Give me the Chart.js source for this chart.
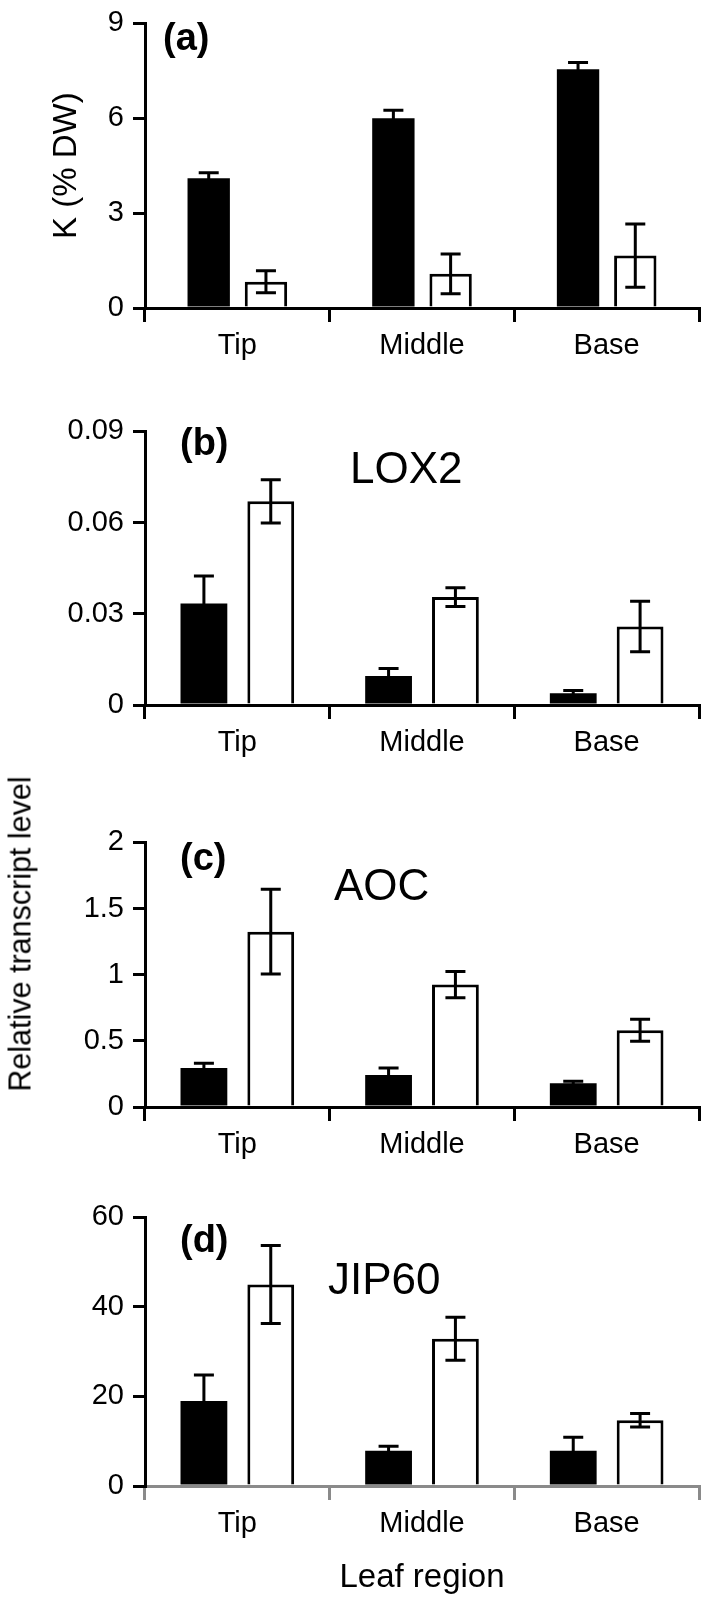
<!DOCTYPE html>
<html>
<head>
<meta charset="utf-8">
<script src="https://cdn.jsdelivr.net/npm/chart.js@4.4.1/dist/chart.umd.min.js"></script>
<style>
  body { margin: 0; background: #fff; }
  #fig { position: relative; width: 701px; height: 1600px; overflow: hidden; }
  #fig canvas { position: absolute; left: 0; }
  #ylab {
    position: absolute; left: 20px; top: 934px;
    transform: translate(-50%, -50%) rotate(-90deg);
    font: 30.5px 'Liberation Sans', Arial, Helvetica, sans-serif;
    white-space: nowrap; color: #000;
  }
</style>
</head>
<body>
<div id="fig">
  <canvas id="pa" width="701" height="371" style="top:-3px"></canvas>
  <canvas id="pb" width="701" height="360" style="top:405px"></canvas>
  <canvas id="pc" width="701" height="351" style="top:816px"></canvas>
  <canvas id="pd" width="701" height="409" style="top:1191px"></canvas>
  <div id="ylab">Relative transcript level</div>
</div>
<script>
const FONT = "'Liberation Sans', Arial, Helvetica, sans-serif";

const categories = ['Tip', 'Middle', 'Base'];

// (a) K content (% DW)
const kBlack = [4.1, 6.0, 7.55];
const kBlackErr = [0.18, 0.25, 0.21];
const kWhite = [0.83, 1.08, 1.66];
const kWhiteErr = [0.35, 0.63, 1.0];
const kTicks = [0, 3, 6, 9];

// (b) LOX2
const loxBlack = [0.0334, 0.0095, 0.0039];
const loxBlackErr = [0.009, 0.0025, 0.0009];
const loxWhite = [0.067, 0.0355, 0.0258];
const loxWhiteErr = [0.0071, 0.0031, 0.0083];
const loxTicks = [0, 0.03, 0.06, 0.09];

// (c) AOC
const aocBlack = [0.295, 0.242, 0.18];
const aocBlackErr = [0.035, 0.053, 0.015];
const aocWhite = [1.325, 0.925, 0.58];
const aocWhiteErr = [0.32, 0.1, 0.083];
const aocTicks = [0, 0.5, 1, 1.5, 2];

// (d) JIP60
const jipBlack = [19, 7.9, 7.9];
const jipBlackErr = [5.8, 1.0, 3.0];
const jipWhite = [45, 32.9, 14.7];
const jipWhiteErr = [8.7, 4.8, 1.5];
const jipTicks = [0, 20, 40, 60];

// error bars drawn from the dataset values through the y scale
const errorBars = {
  id: 'errorBars',
  afterDatasetsDraw(chart) {
    const ctx = chart.ctx, y = chart.scales.y;
    chart.data.datasets.forEach((ds, i) => {
      chart.getDatasetMeta(i).data.forEach((bar, j) => {
        const v = ds.data[j], e = ds.errors[j];
        const top = y.getPixelForValue(v + e), bot = y.getPixelForValue(v - e);
        ctx.save();
        ctx.strokeStyle = '#000';
        ctx.lineWidth = 3;
        ctx.beginPath();
        ctx.moveTo(bar.x, top); ctx.lineTo(bar.x, bot);
        ctx.moveTo(bar.x - 10, top); ctx.lineTo(bar.x + 10, top);
        ctx.moveTo(bar.x - 10, bot); ctx.lineTo(bar.x + 10, bot);
        ctx.stroke();
        ctx.restore();
      });
    });
  }
};

const panelText = {
  id: 'panelText',
  afterDraw(chart, args, o) {
    const ctx = chart.ctx;
    ctx.save();
    ctx.fillStyle = '#000';
    ctx.textBaseline = 'alphabetic';
    ctx.textAlign = 'left';
    ctx.font = 'bold 38px ' + FONT;
    ctx.fillText(o.tag, o.tagX, o.tagY);
    if (o.gene) {
      ctx.font = '44px ' + FONT;
      ctx.fillText(o.gene, o.geneX, o.geneY);
    }
    ctx.restore();
  }
};

function makePanel(id, black, blackErr, white, whiteErr, ticks, p) {
  const axisColor = p.axisColor || '#000';
  new Chart(document.getElementById(id), {
    type: 'bar',
    data: {
      labels: categories,
      datasets: [
        { label: 'black', data: black, errors: blackErr, backgroundColor: '#000',
          borderWidth: 0, categoryPercentage: p.cat, barPercentage: p.bar },
        { label: 'white', data: white, errors: whiteErr, backgroundColor: '#fff',
          borderColor: '#000', borderWidth: 3, categoryPercentage: p.cat, barPercentage: p.bar }
      ]
    },
    options: {
      responsive: false,
      animation: false,
      devicePixelRatio: 1,
      layout: { padding: { top: 18, right: 2, left: 0, bottom: 0 } },
      plugins: {
        legend: { display: false },
        tooltip: { enabled: false },
        panelText: p.text
      },
      scales: {
        x: {
          offset: true,
          grid: { offset: true, drawOnChartArea: false, drawTicks: true, tickLength: 14,
                  lineWidth: 3, color: axisColor },
          border: { display: true, width: 3, color: axisColor },
          ticks: { color: '#000', font: { family: FONT, size: 29 }, padding: 7, maxRotation: 0 },
          title: p.xTitle ? { display: true, text: p.xTitle, color: '#000',
                  font: { family: FONT, size: 33 }, padding: { top: 0, bottom: 2 } } : { display: false },
          afterFit: s => { s.height = p.xH; }
        },
        y: {
          min: ticks[0],
          max: ticks[ticks.length - 1],
          ticks: { stepSize: ticks[1] - ticks[0], color: '#000', padding: 9,
                   font: { family: FONT, size: 29 },
                   callback: v => String(+v.toFixed(4)) },
          grid: { drawOnChartArea: false, drawTicks: true, tickLength: 12, lineWidth: 3, color: '#000' },
          border: { display: true, width: 3, color: '#000' },
          title: p.yTitle ? { display: true, text: p.yTitle, color: '#000',
                  font: { family: FONT, size: 33 }, padding: { top: 47, bottom: 0 } } : { display: false },
          afterFit: s => { s.width = 145; }
        }
      }
    },
    plugins: [errorBars, panelText]
  });
}

makePanel('pa', kBlack, kBlackErr, kWhite, kWhiteErr, kTicks, {
  cat: 0.62, bar: 0.74, xH: 60, yTitle: 'K (% DW)',
  text: { tag: '(a)', tagX: 163, tagY: 53 }
});
makePanel('pb', loxBlack, loxBlackErr, loxWhite, loxWhiteErr, loxTicks, {
  cat: 0.724, bar: 0.70, xH: 60,
  text: { tag: '(b)', tagX: 180, tagY: 50, gene: 'LOX2', geneX: 350, geneY: 78 }
});
makePanel('pc', aocBlack, aocBlackErr, aocWhite, aocWhiteErr, aocTicks, {
  cat: 0.724, bar: 0.70, xH: 60,
  text: { tag: '(c)', tagX: 180, tagY: 54, gene: 'AOC', geneX: 334, geneY: 84 }
});
makePanel('pd', jipBlack, jipBlackErr, jipWhite, jipWhiteErr, jipTicks, {
  cat: 0.724, bar: 0.70, xH: 114, axisColor: '#8a8a8a', xTitle: 'Leaf region',
  text: { tag: '(d)', tagX: 180, tagY: 61, gene: 'JIP60', geneX: 328, geneY: 103 }
});
</script>
</body>
</html>
